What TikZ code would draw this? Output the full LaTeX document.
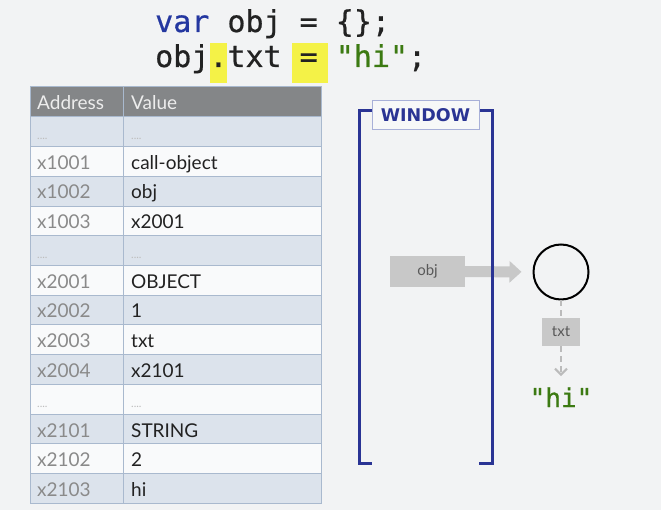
\documentclass[tikz,border=0pt]{standalone}
\usepackage{fontspec}
\setmainfont{Lato}
\setmonofont{DejaVu Sans Mono}
\newfontfamily\winfont{DejaVu Sans}
\newfontfamily\codefont[RawFeature={embolden=0.6}]{DejaVu Sans Mono}
\usetikzlibrary{arrows.meta}

\definecolor{slidebg}{HTML}{F2F3F4}
\definecolor{headgray}{HTML}{848688}
\definecolor{rowblue}{HTML}{DCE3EC}
\definecolor{rowwhite}{HTML}{F9FAFB}
\definecolor{gridblue}{HTML}{A9B9CE}
\definecolor{addrgray}{HTML}{8A8A8A}
\definecolor{dotgray}{HTML}{BDBDBD}
\definecolor{valblack}{HTML}{222222}
\definecolor{kwblue}{HTML}{2437A0}
\definecolor{strgreen}{HTML}{3C7A12}
\definecolor{hlyellow}{HTML}{F4F247}
\definecolor{winblue}{HTML}{2A3494}
\definecolor{winframe}{HTML}{A8B0D8}
\definecolor{boxgray}{HTML}{C8C8C8}
\definecolor{dashgray}{HTML}{BBBBBB}

\begin{document}
\begin{tikzpicture}[x=1pt,y=-1pt,
    addr/.style={anchor=base west,inner sep=0pt,text=addrgray,font=\fontsize{19}{21}\selectfont},
    val/.style={anchor=base west,inner sep=0pt,text=valblack,font=\fontsize{19}{21}\selectfont},
    head/.style={anchor=base west,inner sep=0pt,text=white!93!black,font=\fontsize{19}{21}\selectfont},
    dots/.style={anchor=base west,inner sep=0pt,text=dotgray,font=\fontsize{11}{13}\selectfont},
    code/.style={anchor=base west,inner sep=0pt,font=\codefont\fontsize{30}{34}\selectfont},
    graybox/.style={fill=boxgray,text=black!65,inner sep=0pt,font=\fontsize{15}{17}\selectfont},
    gridline/.style={draw=gridblue,line width=1pt},
    bracket/.style={draw=winblue,line width=3pt},
    dashlink/.style={draw=dashgray,line width=2pt,dash pattern=on 6pt off 4pt}]

      \fill[slidebg] (0,0) rectangle (661,510);
      \useasboundingbox (0,0) rectangle (661,510);

      % code lines
      \fill[hlyellow] (210,43) rectangle (227,83);
      \fill[hlyellow] (292,43) rectangle (328,83);
      \node[code] (line1) at (155,32) {\textcolor{kwblue}{var} \textcolor{valblack}{obj = \{\};}};
      \node[code] (line2) at (155,67) {\textcolor{valblack}{obj.txt = }\textcolor{strgreen}{"hi"}\textcolor{valblack}{;}};

      % memory table
      \fill[headgray] (30,87) rectangle (321,117);
      \fill[rowblue] (30,117) rectangle (321,146.7);
      \fill[rowwhite] (30,146.7) rectangle (321,176.4);
      \fill[rowblue] (30,176.4) rectangle (321,206.1);
      \fill[rowwhite] (30,206.1) rectangle (321,235.8);
      \fill[rowblue] (30,235.8) rectangle (321,265.5);
      \fill[rowwhite] (30,265.5) rectangle (321,295.2);
      \fill[rowblue] (30,295.2) rectangle (321,324.9);
      \fill[rowwhite] (30,324.9) rectangle (321,354.6);
      \fill[rowblue] (30,354.6) rectangle (321,384.3);
      \fill[rowwhite] (30,384.3) rectangle (321,414);
      \fill[rowblue] (30,414) rectangle (321,443.7);
      \fill[rowwhite] (30,443.7) rectangle (321,473.4);
      \fill[rowblue] (30,473.4) rectangle (321,503.1);
      \draw[gridline] (30,87) rectangle (321,503.1);
      \draw[gridline] (123,87) -- (123,503.1);
      \draw[gridline] (30,117) -- (321,117);
      \draw[gridline] (30,146.7) -- (321,146.7);
      \draw[gridline] (30,176.4) -- (321,176.4);
      \draw[gridline] (30,206.1) -- (321,206.1);
      \draw[gridline] (30,235.8) -- (321,235.8);
      \draw[gridline] (30,265.5) -- (321,265.5);
      \draw[gridline] (30,295.2) -- (321,295.2);
      \draw[gridline] (30,324.9) -- (321,324.9);
      \draw[gridline] (30,354.6) -- (321,354.6);
      \draw[gridline] (30,384.3) -- (321,384.3);
      \draw[gridline] (30,414) -- (321,414);
      \draw[gridline] (30,443.7) -- (321,443.7);
      \draw[gridline] (30,473.4) -- (321,473.4);

      \node[head] (addrhead) at (37,110) {Address};
      \node[head] (valhead) at (131,110) {Value};

      \node[dots] (e1a) at (37,140) {....};
      \node[dots] (e1v) at (131,140) {....};
      \node[addr] (x1001) at (37,169.5) {x1001};
      \node[val] (v1001) at (131,169.5) {call-object};
      \node[addr] (x1002) at (37,199) {x1002};
      \node[val] (v1002) at (131,199) {obj};
      \node[addr] (x1003) at (37,229) {x1003};
      \node[val] (v1003) at (131,229) {x2001};
      \node[dots] (e2a) at (37,258.5) {....};
      \node[dots] (e2v) at (131,258.5) {....};
      \node[addr] (x2001) at (37,288.5) {x2001};
      \node[val] (v2001) at (131,288.5) {OBJECT};
      \node[addr] (x2002) at (37,318) {x2002};
      \node[val] (v2002) at (131,318) {1};
      \node[addr] (x2003) at (37,347.5) {x2003};
      \node[val] (v2003) at (131,347.5) {txt};
      \node[addr] (x2004) at (37,377.5) {x2004};
      \node[val] (v2004) at (131,377.5) {x2101};
      \node[dots] (e3a) at (37,407) {....};
      \node[dots] (e3v) at (131,407) {....};
      \node[addr] (x2101) at (37,437) {x2101};
      \node[val] (v2101) at (131,437) {STRING};
      \node[addr] (x2102) at (37,466.5) {x2102};
      \node[val] (v2102) at (131,466.5) {2};
      \node[addr] (x2103) at (37,496) {x2103};
      \node[val] (v2103) at (131,496) {hi};

      % window scope and heap
      \node[graybox,minimum width=75pt,minimum height=31pt] (obj) at (427.5,271.5) {obj};
      \node[circle,draw=black,line width=2pt,minimum size=55pt,inner sep=0pt] (circ) at (561,272) {};
      \node[graybox,minimum width=38pt,minimum height=28pt] (txt) at (561,332) {txt};
      \node[anchor=base,inner sep=0pt,text=strgreen,font=\codefont\fontsize{26}{30}\selectfont] (hi) at (561,407) {"hi"};

      \draw[boxgray,line width=11pt,shorten >=11pt,-{Triangle[width=21pt,length=12pt]}] (obj) -- (circ);
      \draw[dashlink] (circ) -- (txt);
      \draw[dashlink,shorten >=11pt,-{Straight Barb[length=6pt,width=12pt,line width=2pt]}] (txt) -- (hi);

      \draw[bracket] (372,111) -- (359,111) -- (359,463) -- (372,463);
      \draw[bracket] (479,111) -- (492,111) -- (492,463) -- (479,463);
      \node[draw=winframe,line width=0.8pt,fill=slidebg!60!white,minimum width=107pt,minimum height=29pt,inner sep=0pt,text=winblue,font=\winfont\bfseries\fontsize{17.5}{20}\selectfont] (window) at (425.5,115) {WINDOW};
   \end{tikzpicture}
\end{document}
